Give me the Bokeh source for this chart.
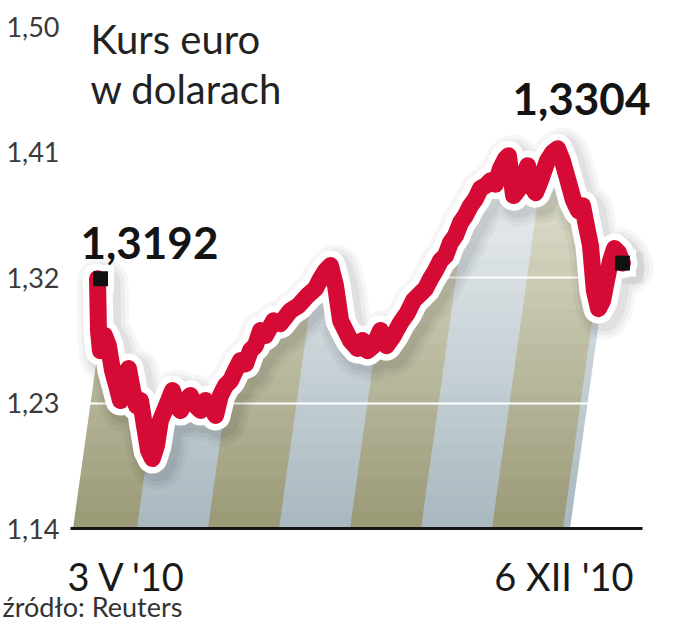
from bokeh.plotting import figure
from bokeh.models import Range1d
from bokeh.embed import file_html
from bokeh.resources import INLINE
from bokeh.core.properties import value

# ---- data (EUR/USD, day offset from 3 V 2010) ----
days = [0, 0.4, 1.2, 2.9, 4.5, 6.2, 7.9, 9.5, 11.2, 12.8, 14.5, 16.1, 17.8, 19.4, 21.1,
        22.7, 24.4, 26.0, 27.7, 29.4, 31.0, 32.7, 34.3, 36.4, 38.4, 40.5, 42.6, 44.6,
        46.7, 48.8, 50.8, 52.9, 55.0, 57.0, 59.1, 61.2, 63.2, 65.3, 67.4, 69.4, 72.8,
        75.6, 79.8, 83.1, 86.8, 90.1, 92.2, 94.3, 96.3, 98.4, 100.5, 102.5, 104.6,
        107.5, 109.5, 111.6, 114.1, 117.0, 119.5, 122.4, 125.3, 128.2, 130.6, 133.5,
        135.6, 137.7, 139.7, 141.8, 143.9, 145.9, 148.0, 150.1, 152.1, 154.2, 156.3,
        158.3, 160.4, 162.5, 164.5, 166.6, 168.7, 169.9, 172.0, 173.6, 174.9, 177.8,
        179.4, 181.1, 183.1, 186.0, 188.1, 190.2, 192.2, 194.3, 196.8, 198.8, 200.5,
        202.1, 203.8, 205.4, 207.1, 208.8, 210.4, 212.1, 213.7, 215.4, 217.0]
rates = [1.3192, 1.2820, 1.2676, 1.2784, 1.2712, 1.2533, 1.2425, 1.2318, 1.2497, 1.2547,
         1.2389, 1.2282, 1.2318, 1.2139, 1.1959, 1.1902, 1.1995, 1.2174, 1.2246, 1.2318,
         1.2389, 1.2282, 1.2246, 1.2318, 1.2354, 1.2282, 1.2246, 1.2318, 1.2282, 1.2211,
         1.2354, 1.2425, 1.2461, 1.2533, 1.2605, 1.2580, 1.2676, 1.2712, 1.2820, 1.2784,
         1.2890, 1.2870, 1.2963, 1.2999, 1.3071, 1.3121, 1.3192, 1.3250, 1.3286, 1.3142,
         1.2890, 1.2820, 1.2748, 1.2691, 1.2748, 1.2676, 1.2712, 1.2820, 1.2712, 1.2784,
         1.2877, 1.2949, 1.3035, 1.3085, 1.3121, 1.3192, 1.3250, 1.3322, 1.3357, 1.3450,
         1.3501, 1.3594, 1.3644, 1.3716, 1.3766, 1.3838, 1.3859, 1.3895, 1.3870, 1.3981,
         1.4053, 1.4074, 1.3788, 1.3823, 1.3859, 1.4002, 1.3859, 1.3809, 1.3895, 1.4038,
         1.4096, 1.4124, 1.4038, 1.3909, 1.3752, 1.3680, 1.3716, 1.3572, 1.3429, 1.3106,
         1.2977, 1.3035, 1.3178, 1.3322, 1.3408, 1.3379, 1.3304]
y_ticks = [1.14, 1.23, 1.32, 1.41, 1.50]
y_tick_labels = ["1,14", "1,23", "1,32", "1,41", "1,50"]
grid_values = [1.23, 1.32]
x_tick_labels = ["3 V '10", "6 XII '10"]
start_label = "1,3192"
end_label = "1,3304"
title_lines = ["Kurs euro", "w dolarach"]
source_text = "źródło: Reuters"

# ---- layout helpers (picture pixel -> data) ----
PXD = 2.419      # px per day
PXU = 1394.0     # px per unit of rate
def dx(px):
    return (px - 97) / PXD
def dy(py):
    return 1.14 + (528 - py) / PXU
SLANT = 0.14 * PXU / PXD   # days shift per unit of rate
def shift(v):
    return SLANT * (v - 1.14)

W, H = 657, 624
p = figure(width=W, height=H, output_backend="svg", toolbar_location=None,
           x_range=Range1d(dx(0), dx(W)), y_range=Range1d(dy(H), dy(0)),
           x_axis_location=None, y_axis_location=None, min_border=0,
           outline_line_color=None, background_fill_color="white",
           border_fill_color="white")
p.grid.visible = False

# ---- slanted gradient stripes ----
def mix(c0, c1, t):
    t = max(0.0, min(1.0, t))
    return "#%02x%02x%02x" % tuple(int(round(a + (b - a) * t)) for a, b in zip(c0, c1))

olive = ((154, 153, 118), (228, 228, 212))
blue = ((168, 184, 191), (238, 241, 243))
bounds = [66 + 71 * k for k in range(9)]
top_v = 1.43
n = 24
xs, ys, cs = [], [], []
for k in range(len(bounds) - 1):
    a, b = dx(bounds[k]), dx(bounds[k + 1])
    cols = olive if k % 2 == 0 else blue
    for i in range(n):
        v0 = 1.14 + (top_v - 1.14) * i / n
        v1 = 1.14 + (top_v - 1.14) * (i + 1) / n
        xs.append([a + shift(v0), b + shift(v0), b + shift(v1), a + shift(v1)])
        ys.append([v0, v0, v1, v1])
        cs.append(mix(cols[0], cols[1], ((v0 + v1) / 2 - 1.14) / 0.27))
p.patches(xs, ys, fill_color=cs, line_color=cs, line_width=1)

# white grid lines
p.hspan(y=grid_values, line_color="white", line_width=2)

# white covers (outside the area)
p.varea(x=days + [dx(700)], y1=rates + [rates[-1]], y2=1.6, fill_color="white")
lb = dx(72)
p.patch([dx(-50), lb, lb + shift(1.6), dx(-50)], [1.0, 1.14, 1.6, 1.6],
        fill_color="white", line_color="white")
p.patch([dx(-50), dx(700), dx(700), dx(-50)], [1.0, 1.0, 1.14, 1.14],
        fill_color="white", line_color="white")
rb = dx(570)
p.patch([rb, dx(700), dx(700), rb + shift(1.6)], [1.14, 1.14, 1.6, 1.6],
        fill_color="white", line_color="white")

# baseline
p.segment(x0=[dx(70)], y0=[1.14], x1=[dx(642)], y1=[1.14], line_color="#151515", line_width=3)

# soft shadow
sx = [d + 5 / PXD for d in days]
sy = [r - 5 / PXU for r in rates]
for w, a in [(52, 0.035), (44, 0.04), (36, 0.05)]:
    p.line(sx, sy, line_color="black", line_alpha=a, line_width=w,
           line_join="round", line_cap="round")
p.scatter([sx[-1]], [sy[-1]], marker="square", size=32, fill_color="black",
          fill_alpha=0.05, line_color=None)

# white halo + red line
p.line(days, rates, line_color="white", line_width=30, line_join="round", line_cap="round")
p.scatter([days[0] + 3 / PXD, days[-1]], [rates[0], rates[-1]], marker="square", size=27,
          fill_color="white", line_color=None)
p.line(days, rates, line_color="#d50b35", line_width=17, line_join="round", line_cap="round")
p.scatter([days[0] + 3 / PXD, days[-1]], [rates[0], rates[-1]], marker="square", size=15,
          fill_color="#111111", line_color=None)

# ---- texts ----
p.text(x=[dx(59)] * len(y_ticks), y=y_ticks, text=y_tick_labels, text_font=value("Lato"),
       text_font_size="27px", text_color="#3a3a3a", text_align="right", text_baseline="middle")
p.text(x=[dx(90), dx(90)], y=[dy(38), dy(88)], text=title_lines, text_font=value("Lato"),
       text_font_size="40px", text_color="#222222", text_align="left",
       text_baseline="alphabetic")
p.text(x=[dx(80)], y=[dy(242)], text=[start_label], text_font=value("Lato"),
       text_font_style="bold", text_font_size="44px", text_color="#141414",
       text_align="left", text_baseline="alphabetic")
p.text(x=[dx(512)], y=[dy(98)], text=[end_label], text_font=value("Lato"),
       text_font_style="bold", text_font_size="44px", text_color="#141414",
       text_align="left", text_baseline="alphabetic")
p.text(x=[dx(67)], y=[dy(575)], text=[x_tick_labels[0]], text_font=value("Lato"),
       text_font_size="38px", text_color="#1a1a1a", text_align="left",
       text_baseline="alphabetic")
p.text(x=[dx(633)], y=[dy(575)], text=[x_tick_labels[1]], text_font=value("Lato"),
       text_font_size="38px", text_color="#1a1a1a", text_align="right",
       text_baseline="alphabetic")
p.text(x=[dx(2)], y=[dy(606)], text=[source_text], text_font=value("Lato"),
       text_font_size="27px", text_color="#333333", text_align="left",
       text_baseline="alphabetic")

open("out.html", "w").write(file_html(p, INLINE))
